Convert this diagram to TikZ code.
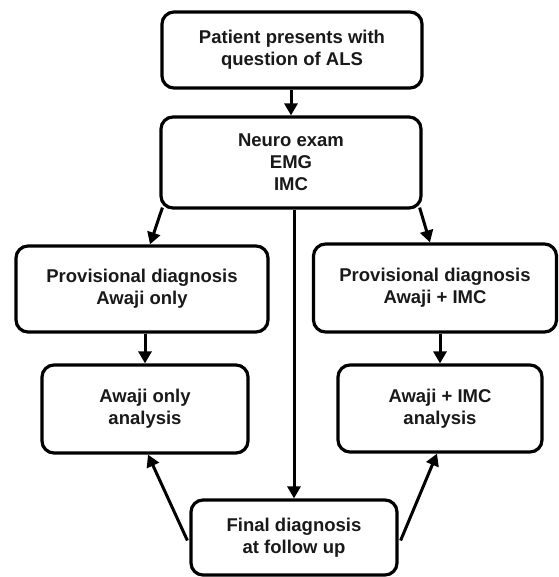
\documentclass[tikz,border=0pt]{standalone}
\usepackage{fontspec}
\setmainfont{Liberation Sans}
\usetikzlibrary{arrows.meta,calc}
\begin{document}
\begin{tikzpicture}[x=1pt,y=-1pt,
 box/.style={draw=black, line width=3.2pt, rounded corners=12pt, fill=white, align=center,
   font=\fontsize{18.5}{22}\selectfont\bfseries, inner sep=0pt, text=black!90},
 conn/.style={line width=3pt, -{Triangle[length=12pt,width=13pt]}}]
\useasboundingbox (0,0) rectangle (558,577);
\node[box, minimum width=260pt, minimum height=76pt] (top) at (292,50) {Patient presents with\\question of ALS};
\node[box, minimum width=260pt, minimum height=91pt] (neuro) at (291,162.5) {Neuro exam\\EMG\\IMC};
\node[box, minimum width=252pt, minimum height=86pt] (lprov) at (142,289) {Provisional diagnosis\\Awaji only};
\node[box, minimum width=243pt, minimum height=88pt] (rprov) at (435,288) {Provisional diagnosis\\Awaji + IMC};
\node[box, minimum width=206pt, minimum height=88pt] (lana) at (145,409) {Awaji only\\analysis};
\node[box, minimum width=204pt, minimum height=87pt] (rana) at (440,408.5) {Awaji + IMC\\analysis};
\node[box, minimum width=206pt, minimum height=75pt] (final) at (294,537.5) {Final diagnosis\\at follow up};
\draw[conn] (top.south -| neuro.north) -- (neuro.north);
\draw[conn] ($(neuro.south west)+(3,-2)$) -- ($(lprov.north)+(8,0)$);
\draw[conn] ($(neuro.south east)+(-3,-2)$) -- ($(rprov.north)+(-5,0)$);
\draw[conn] (final.north |- neuro.south) -- (final.north);
\draw[conn] (lprov.south -| lana.north) -- (lana.north);
\draw[conn] (rprov.south -| rana.north) -- (rana.north);
\draw[conn] ($(final.west)+(-2,3)$) -- ($(lana.south)+(3,0)$);
\draw[conn] ($(final.east)+(2,3)$) -- ($(rana.south)+(-3,0)$);
\end{tikzpicture}
\end{document}
